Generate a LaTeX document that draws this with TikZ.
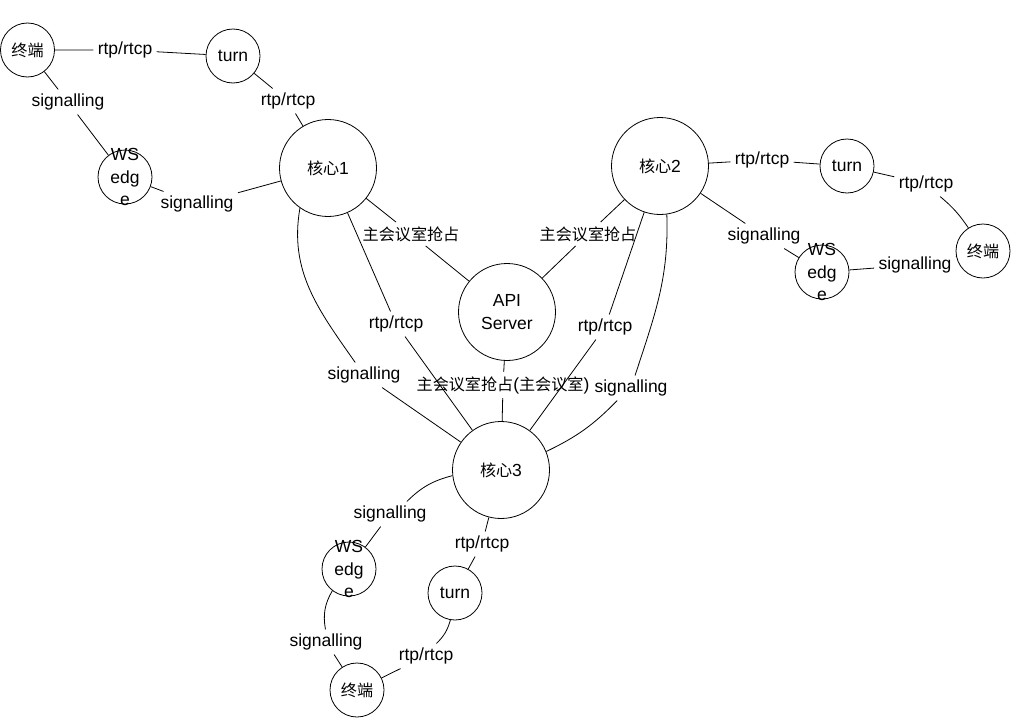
\documentclass[tikz,border=0pt]{standalone}
\usepackage{fontspec}
\setmainfont{Liberation Sans}
\newfontfamily\cjk{Noto Sans CJK SC}[Scale=0.92]
\begin{document}
\begin{tikzpicture}[x=1pt,y=-1pt,line width=0.8pt,
  every node/.style={font=\fontsize{17.5}{22.5}\selectfont},
  sm/.style={circle,draw,minimum size=54pt,inner sep=0pt},
  big/.style={circle,draw,minimum size=97pt,inner sep=0pt},
  lbl/.style={inner sep=4pt}]
\useasboundingbox[fill=white] (0,0) rectangle (1032,720);
% circles
\node[sm] (t1) at (27.5,50) {\cjk 终端};
\node[sm] (turn1) at (233,56) {turn};
\node[sm] (ws1) at (125,177) {};
\node[align=center] (ws1t) at (ws1) {WS\\edg\\e};
\node[big] (c1) at (328,168) {{\cjk 核心}1};
\node[big] (c2) at (660,166) {{\cjk 核心}2};
\node[sm] (turn2) at (847,166) {turn};
\node[sm] (t2) at (983,251) {\cjk 终端};
\node[sm] (ws2) at (822,272) {};
\node[align=center] (ws2t) at (ws2) {WS\\edg\\e};
\node[big] (api) at (507,312) {};
\node[align=center] (apit) at (api) {API\\Server};
\node[big] (c3) at (501,470) {{\cjk 核心}3};
\node[sm] (ws3) at (349,569) {};
\node[align=center] (ws3t) at (ws3) {WS\\edg\\e};
\node[sm] (turn3) at (455,593) {turn};
\node[sm] (t3) at (357,690) {\cjk 终端};
% labels
\node[lbl] (L1) at (125,50) {rtp/rtcp};
\node[lbl] (L2) at (68,102) {signalling};
\node[lbl] (L3) at (288,101) {rtp/rtcp};
\node[lbl] (L4) at (197,204) {signalling};
\node[lbl] (L5) at (411,234) {\cjk 主会议室抢占};
\node[lbl] (L6) at (588,234) {\cjk 主会议室抢占};
\node[lbl] (L7) at (396,324) {rtp/rtcp};
\node[lbl] (L8) at (364,375) {signalling};
\node[lbl] (L9) at (605,327) {rtp/rtcp};
\node[lbl] (L10) at (631,388) {signalling};
\node[lbl] (L11) at (503,385) {{\cjk 主会议室抢占}({\cjk 主会议室})};
\node[lbl] (L12) at (762,160) {rtp/rtcp};
\node[lbl] (L13) at (926,184) {rtp/rtcp};
\node[lbl] (L14) at (764,236) {signalling};
\node[lbl] (L15) at (915,265) {signalling};
\node[lbl] (L16) at (390,514) {signalling};
\node[lbl] (L17) at (482,544) {rtp/rtcp};
\node[lbl] (L18) at (326,642) {signalling};
\node[lbl] (L19) at (426,656) {rtp/rtcp};
% connectors
\draw (t1) -- (L1) -- (turn1);
\draw (t1) -- (L2) -- (ws1);
\draw (turn1) -- (L3) -- (c1);
\draw (ws1) -- (L4) -- (c1);
\draw (c1) -- (L5) -- (api);
\draw (c2) -- (L6) -- (api);
\draw (c1) -- (L7) -- (c3);
\draw (c1.235) to[out=260,in=125] (L8);
\draw (L8) -- (c3);
\draw (c2) -- (L9) -- (c3);
\draw (c2.278) to[out=272,in=72] (L10);
\draw (L10) to[bend left=10] (c3);
\draw (api) -- (L11) -- (c3);
\draw (c2) -- (L12) -- (turn2);
\draw (turn2) -- (L13);
\draw (L13) to[bend left=8] (t2);
\draw (c2) -- (L14) -- (ws2);
\draw (ws2) -- (L15) -- (t2);
\draw (c3) to[bend right=15] (L16);
\draw (L16) -- (ws3);
\draw (c3) -- (L17) -- (turn3);
\draw (ws3) to[bend right=20] (L18);
\draw (L18) -- (t3);
\draw (turn3) to[bend left=15] (L19);
\draw (L19) -- (t3);
\end{tikzpicture}
\end{document}
